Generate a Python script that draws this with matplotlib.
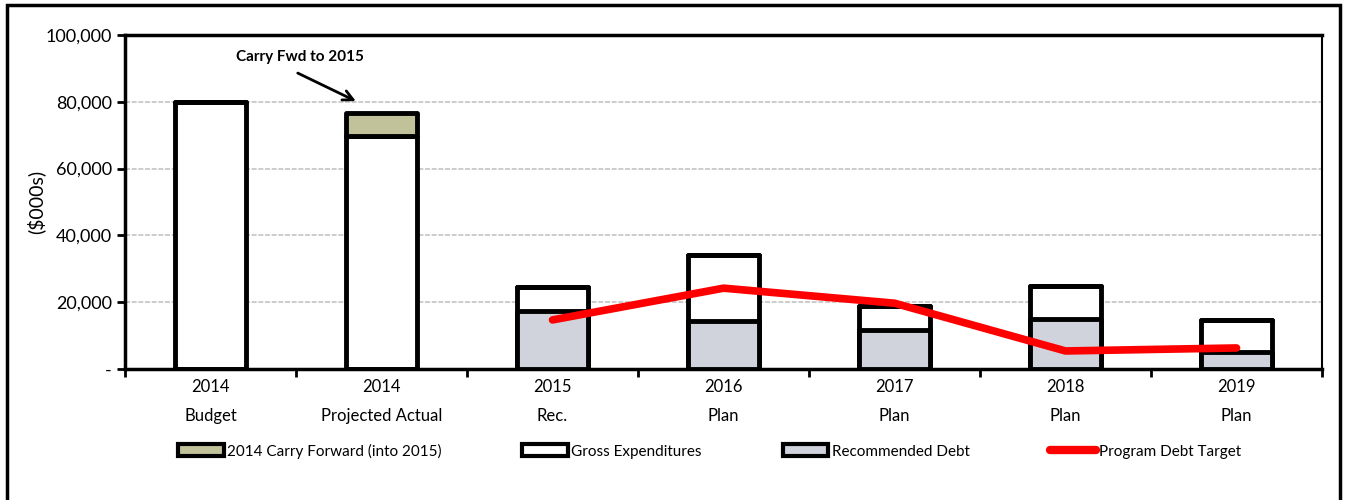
import matplotlib.pyplot as plt
from matplotlib.patches import Rectangle, Patch
from matplotlib.lines import Line2D
from matplotlib.ticker import FuncFormatter
import numpy as np

plt.rcParams['font.family'] = ['Lato', 'DejaVu Sans']

categorias = ["2014\nBudget", "2014\nProjected Actual", "2015\nRec.", "2016\nPlan",
              "2017\nPlan", "2018\nPlan", "2019\nPlan"]
gastos_brutos = [80000, 69800, 24500, 34100, 19000, 24900, 14700]
carry_forward = [0, 6800, 0, 0, 0, 0, 0]
deuda_recomendada = [0, 0, 17500, 14300, 11800, 15000, 5000]
meta_deuda_x = [2, 3, 4, 5, 6]
meta_deuda = [14700, 24200, 19700, 5400, 6300]

fig = plt.figure(figsize=(13.49, 5), dpi=100)
ax = fig.add_axes([0.0927, 0.262, 0.8873, 0.668])

x = np.arange(len(categorias))
ancho = 0.41
borde = dict(edgecolor="black", linewidth=3.5, joinstyle="round", capstyle="round")

ax.bar(x, gastos_brutos, ancho, color="white", zorder=3, **borde)
ax.bar(x, carry_forward, ancho, bottom=gastos_brutos, color="#c2c29a", zorder=3, **borde)
ax.bar(x, deuda_recomendada, ancho, color="#d0d3dc", zorder=3, **borde)
ax.plot(meta_deuda_x, meta_deuda, color="red", linewidth=5.5, solid_capstyle="round", zorder=4)

ax.set_xlim(-0.5, len(categorias) - 0.5)
ax.set_ylim(0, 100000)
ax.set_yticks(np.arange(0, 100001, 20000))
ax.yaxis.set_major_formatter(FuncFormatter(lambda v, p: "-" if v == 0 else f"{int(v):,}"))
ax.grid(axis="y", color="#c4c4c4", linestyle=(0, (3, 1)), linewidth=1.2, zorder=0)

ax.set_xticks(x)
ax.set_xticklabels(categorias, fontsize=12, linespacing=2.0)
ax.tick_params(axis="x", length=0, pad=7)
ax.set_xticks(np.arange(-0.5, len(categorias)), minor=True)
ax.tick_params(axis="x", which="minor", length=6, width=2)
ax.tick_params(axis="y", length=6, width=2, labelsize=13)

for lado in ["left", "bottom", "top"]:
    ax.spines[lado].set_linewidth(2.5)
ax.spines["right"].set_linewidth(1.5)

ax.set_ylabel("($000s)", fontsize=14, labelpad=0)

ax.text(0.52, 93400, "Carry Fwd to 2015", ha="center", va="center",
        fontsize=11, fontweight="bold")
ax.annotate("", xy=(0.85, 80200), xytext=(0.51, 88600),
            arrowprops=dict(arrowstyle="->", color="black", lw=2, shrinkA=0, shrinkB=0,
                            mutation_scale=18))

handles = [
    Patch(facecolor="#c2c29a", edgecolor="black", linewidth=3, joinstyle="round"),
    Patch(facecolor="white", edgecolor="black", linewidth=3, joinstyle="round"),
    Patch(facecolor="#d0d3dc", edgecolor="black", linewidth=3, joinstyle="round"),
    Line2D([], [], color="red", linewidth=6, solid_capstyle="round"),
]
etiquetas = ["2014 Carry Forward (into 2015)", "Gross Expenditures",
             "Recommended Debt", "Program Debt Target"]
fig.legend(handles, etiquetas, loc="center", bbox_to_anchor=(0.526, 0.098), ncol=4,
           frameon=False, fontsize=11, handlelength=3.0, handleheight=0.8,
           handletextpad=0.2, columnspacing=5.3)

fig.add_artist(Rectangle((0.005, -0.05), 0.988, 1.04, transform=fig.transFigure,
                         fill=False, edgecolor="black", linewidth=2.5))

fig.savefig("out.png", dpi=100)
